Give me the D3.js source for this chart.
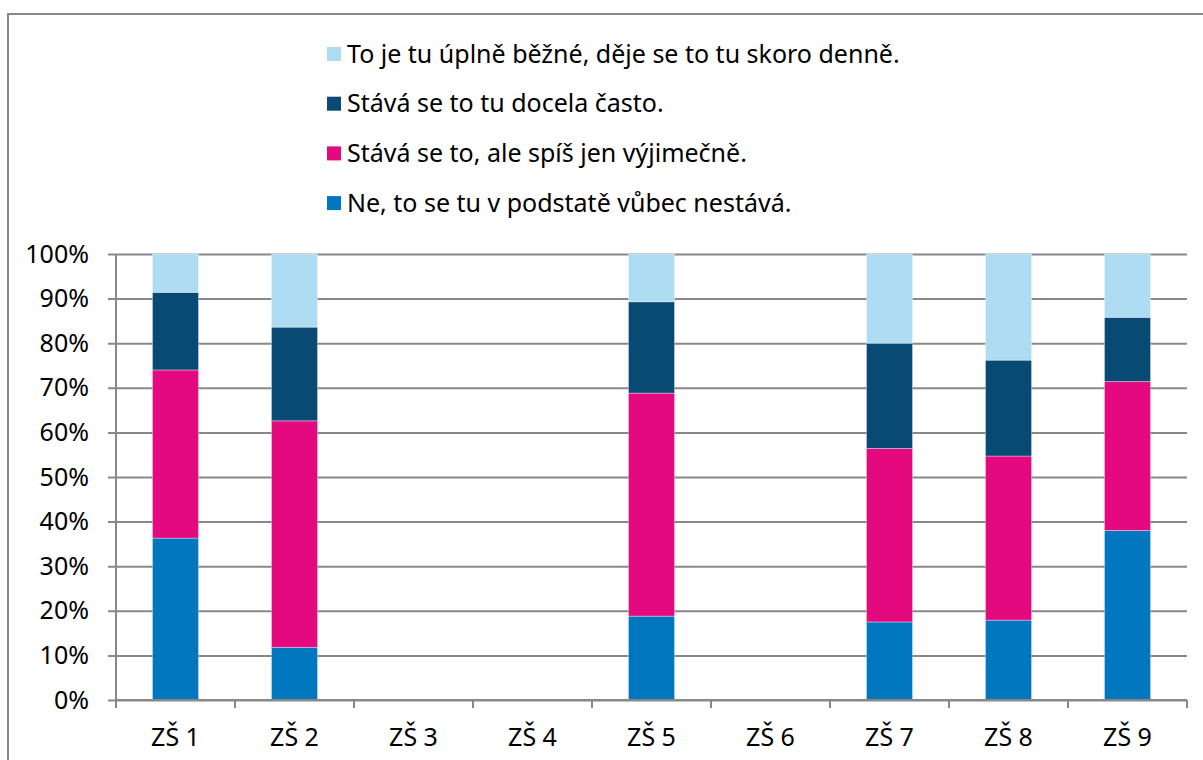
<!doctype html>
<html lang="cs">
<head>
  <meta charset="utf-8">
  <script src="https://d3js.org/d3.v7.min.js"></script>
  <style>
    body { margin: 0; background: #fff; }
    text { font-family: "Noto Sans", "Open Sans", sans-serif; fill: #000; }
  </style>
</head>
<body>
  <script>
    var schools = ["ZŠ 1", "ZŠ 2", "ZŠ 3", "ZŠ 4", "ZŠ 5", "ZŠ 6", "ZŠ 7", "ZŠ 8", "ZŠ 9"];

    // answer shares in % per school (bottom to top of the stack)
    var neVubec     = [36.3, 11.8, 0, 0, 18.8, 0, 17.5, 17.9, 38.0];
    var vyjimecne   = [37.7, 50.8, 0, 0, 50.0, 0, 38.9, 36.8, 33.4];
    var docelaCasto = [17.4, 21.0, 0, 0, 20.5, 0, 23.6, 21.5, 14.4];
    var denne       = [ 8.6, 16.4, 0, 0, 10.7, 0, 20.0, 23.8, 14.2];

    var seriesNames = [
      "Ne, to se tu v podstatě vůbec nestává.",
      "Stává se to, ale spíš jen výjimečně.",
      "Stává se to tu docela často.",
      "To je tu úplně běžné, děje se to tu skoro denně."
    ];
    var seriesColors = ["#0077be", "#e4097f", "#084a74", "#aedcf2"];
    var yTicks = [0, 10, 20, 30, 40, 50, 60, 70, 80, 90, 100];

    var width = 1203, height = 760;
    var plotLeft = 116, plotRight = 1187, plotTop = 254, plotBottom = 700;
    var fontSize = "25px";

    var svg = d3.select("body").append("svg")
        .attr("width", width)
        .attr("height", height);

    // chart frame
    svg.append("rect")
        .attr("x", 8).attr("y", 14)
        .attr("width", width + 20).attr("height", height)
        .style("fill", "none")
        .style("stroke", "#888")
        .style("stroke-width", 2);

    var x = d3.scaleBand()
        .domain(schools)
        .range([plotLeft, plotRight])
        .paddingInner(0.613)
        .paddingOuter(0.3065);

    var y = d3.scaleLinear()
        .domain([0, 100])
        .range([plotBottom, plotTop]);

    // gridlines + y labels
    var yAxis = svg.append("g")
        .attr("transform", "translate(" + plotRight + ",0)")
        .call(d3.axisLeft(y)
          .tickValues(yTicks)
          .tickSize(plotRight - 108)
          .tickPadding(19)
          .tickFormat(function(d) { return d + "%"; }));
    yAxis.select(".domain").remove();
    yAxis.selectAll("line").style("stroke", "#888").style("stroke-width", 2);
    yAxis.selectAll("text").style("font-size", fontSize).attr("font-family", null);

    // stacked bars
    var table = schools.map(function(s, i) {
      return { school: s, a: neVubec[i], b: vyjimecne[i], c: docelaCasto[i], d: denne[i] };
    });
    var stack = d3.stack().keys(["a", "b", "c", "d"])(table);

    svg.append("g").selectAll("g")
        .data(stack)
      .enter().append("g")
        .style("fill", function(d, i) { return seriesColors[i]; })
      .selectAll("rect")
        .data(function(d) { return d; })
      .enter().append("rect")
        .attr("x", function(d) { return x(d.data.school); })
        .attr("width", x.bandwidth())
        .attr("y", function(d) { return y(d[1]); })
        .attr("height", function(d) { return y(d[0]) - y(d[1]); })
        .style("stroke", "rgba(255,255,255,0.35)")
        .style("stroke-width", 1);

    // y axis line
    svg.append("line")
        .attr("x1", plotLeft).attr("x2", plotLeft)
        .attr("y1", plotTop).attr("y2", plotBottom + 8)
        .style("stroke", "#888").style("stroke-width", 2);

    // x axis line and boundary ticks
    svg.append("line")
        .attr("x1", plotLeft).attr("x2", plotRight)
        .attr("y1", plotBottom).attr("y2", plotBottom)
        .style("stroke", "#888").style("stroke-width", 2);
    svg.append("g").selectAll("line")
        .data(d3.range(schools.length + 1))
      .enter().append("line")
        .attr("x1", function(i) { return plotLeft + i * x.step(); })
        .attr("x2", function(i) { return plotLeft + i * x.step(); })
        .attr("y1", plotBottom).attr("y2", plotBottom + 8)
        .style("stroke", "#888").style("stroke-width", 2);

    var xAxis = svg.append("g")
        .attr("transform", "translate(0," + plotBottom + ")")
        .call(d3.axisBottom(x).tickSize(0).tickPadding(28));
    xAxis.select(".domain").remove();
    xAxis.selectAll("text").style("font-size", fontSize).attr("font-family", null);

    // legend, top item = last series
    var legend = svg.append("g").selectAll("g")
        .data(d3.range(seriesNames.length).reverse())
      .enter().append("g")
        .attr("transform", function(d, i) { return "translate(327," + (54 + i * 49.7) + ")"; });
    legend.append("rect")
        .attr("x", 0).attr("y", -7)
        .attr("width", 14).attr("height", 14)
        .style("fill", function(d) { return seriesColors[d]; });
    legend.append("text")
        .attr("x", 20).attr("y", 0)
        .attr("dy", "0.35em")
        .style("font-size", fontSize)
        .text(function(d) { return seriesNames[d]; });
  </script>
</body>
</html>
